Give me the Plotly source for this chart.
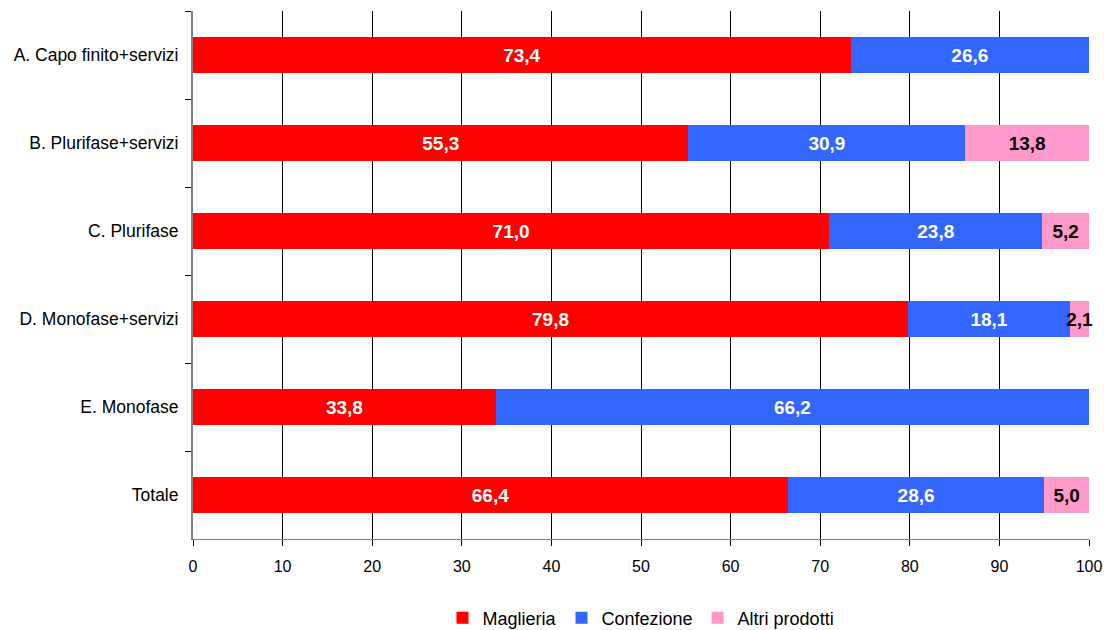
import plotly.graph_objects as go

categories = ["A. Capo finito+servizi", "B. Plurifase+servizi", "C. Plurifase",
              "D. Monofase+servizi", "E. Monofase", "Totale"]
maglieria = [73.4, 55.3, 71.0, 79.8, 33.8, 66.4]
confezione = [26.6, 30.9, 23.8, 18.1, 66.2, 28.6]
altri = [0.0, 13.8, 5.2, 2.1, 0.0, 5.0]
x_ticks = [0, 10, 20, 30, 40, 50, 60, 70, 80, 90, 100]

FONT = "Liberation Sans Narrow, Arial Narrow, Liberation Sans, Arial, sans-serif"

series = [
    ("Maglieria", maglieria, "#FF0000", "white"),
    ("Confezione", confezione, "#3366FF", "white"),
    ("Altri prodotti", altri, "#FF99CC", "black"),
]

fig = go.Figure()
for name, vals, color, tcolor in series:
    texts = [f"{v:.1f}".replace(".", ",") if v > 0 else "" for v in vals]
    fig.add_trace(go.Bar(
        y=categories, x=vals, name=name, orientation="h",
        marker=dict(color=color, line=dict(width=0)),
        text=texts, textposition="inside", insidetextanchor="middle",
        constraintext="none", textangle=0, cliponaxis=False,
        textfont=dict(family=FONT, size=19, color=tcolor, weight="bold"),
        hoverinfo="skip",
    ))

fig.update_layout(
    barmode="stack", bargap=0.58,
    width=1107, height=630,
    margin=dict(l=193, r=18, t=11, b=91, autoexpand=False),
    paper_bgcolor="white", plot_bgcolor="white",
    font=dict(family=FONT, size=16, color="black"),
    legend=dict(orientation="h", x=0.5, xanchor="center",
                yref="container", y=0.019, yanchor="middle",
                font=dict(size=18), traceorder="normal", itemwidth=30,
                tracegroupgap=0),
    showlegend=True,
)
fig.update_xaxes(
    range=[0, 100], tickvals=x_ticks, ticktext=[str(t) for t in x_ticks],
    showgrid=True, gridcolor="black", gridwidth=1, zeroline=False,
    showline=True, linecolor="#808080", linewidth=1, automargin=False,
    ticks="outside", ticklen=6, tickcolor="black",
    tickfont=dict(size=16), ticklabelstandoff=7,
)
fig.update_yaxes(
    type="category", autorange="reversed", tickson="boundaries",
    showgrid=False, showline=True, linecolor="#808080", linewidth=2,
    automargin=False,
    ticks="outside", ticklen=6, tickcolor="black",
    tickfont=dict(size=17.5), ticklabelstandoff=9,
)

fig.write_html("out.html")
